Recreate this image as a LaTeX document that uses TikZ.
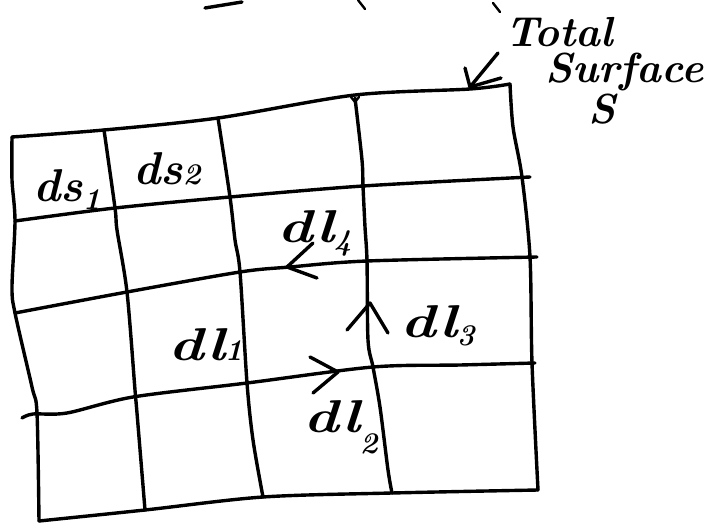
\documentclass[tikz,border=0pt]{standalone}
\usepackage{graphicx}
\newcommand\lowsub[2]{\raisebox{-#1pt}{\fontsize{30}{30}\selectfont #2}}
\tikzset{
  ink/.style={line width=3.4pt, line cap=round, line join=round},
  thinink/.style={line width=2.4pt, line cap=round, line join=round},
  lbl/.style={font=\fontsize{46}{48}\selectfont\bfseries\itshape, inner sep=0pt, anchor=base west},
  toplbl/.style={font=\fontsize{42}{44}\selectfont\bfseries\itshape, inner sep=0pt, anchor=base west}
}
\begin{document}
\begin{tikzpicture}[x=1pt,y=-1pt]
\useasboundingbox (0,0) rectangle (710,524);
% ---- row lines (top to bottom)
\draw[ink] plot[smooth,tension=0.5] coordinates {(12,137) (104,130) (218,118) (355,95) (470,89) (510,84)};
\draw[ink] plot[smooth,tension=0.5] coordinates {(15,221) (115,208) (230,197) (363,186) (530,177)};
\draw[ink] plot[smooth,tension=0.5] coordinates {(15,313) (127,292) (240,272) (290,267) (367,261) (537,257)};
\draw[ink] plot[smooth,tension=0.5] coordinates {(22,418) (33,414) (67,413) (133,397) (247,383) (373,367) (460,365) (535,363)};
\draw[ink] plot[smooth,tension=0.5] coordinates {(39,521) (145,510) (263,497) (392,493) (538,490)};
% ---- column lines (left to right)
\draw[ink] plot[smooth,tension=0.5] coordinates {(12,137) (12,180) (15,221) (12,287) (15,313) (32,387) (37,413) (39,521)};
\draw[ink] plot[smooth,tension=0.5] coordinates {(104,130) (115,208) (117,230) (127,292) (135,390) (137,413) (145,510)};
\draw[ink] plot[smooth,tension=0.5] coordinates {(218,118) (230,197) (235,240) (240,272) (247,383) (253,440) (263,497)};
\draw[ink] plot[smooth,tension=0.5] coordinates {(355,98) (362,160) (363,186) (365,227) (367,261) (368,340) (373,367) (380,407) (388,470) (392,493)};
\draw[thinink] (351,97) -- (355,102) -- (359,97);
\draw[ink] plot[smooth,tension=0.5] coordinates {(510,84) (513,127) (522,177) (530,257) (532,363) (538,490)};
% ---- arrowheads on the loop
\coordinate (t4) at (287,267);
\draw[ink] (313,243) -- (t4) -- (317,278);
\coordinate (t3) at (370,303);
\draw[ink] (347,330) -- (t3) -- (388,333);
\coordinate (t2) at (338,372);
\draw[ink] (310,357) -- (t2) -- (313,393);
% ---- labels
\node[lbl] (ds1) at (33,202) {ds\lowsub{8}{1}};
\node[lbl] (ds2) at (133,185) {ds\lowsub{0}{2}};
\node[lbl] (dl4) at (277,243) {\scalebox{1.3}[1]{dl}\lowsub{7}{4}};
\node[lbl] (dl3) at (400,337) {\scalebox{1.3}[1]{dl}\lowsub{8}{3}};
\node[lbl] (dl2) at (303,432) {\scalebox{1.3}[1]{dl}\lowsub{21}{2}};
\node[lbl] (dl1) at (168,360) {\scalebox{1.3}[1]{dl}\lowsub{0}{1}};
% ---- total surface label
\node[toplbl] (tot) at (505,47) {Total};
\node[toplbl] (surf) at (545,83) {Surface};
\node[toplbl] (S) at (588,124) {S};
\coordinate (from) at (498,53);
\coordinate (corner) at (470,87);
\draw[ink] (from) -- (corner);
\draw[ink] (465,68) -- (corner) -- (501,78);
% ---- cut-off marks at the top edge
\draw[ink] (205,8) -- (242,2);
\draw[thinink] (358,0) -- (365,9);
\draw[thinink] (493,3) -- (500,12);
\end{tikzpicture}
\end{document}
